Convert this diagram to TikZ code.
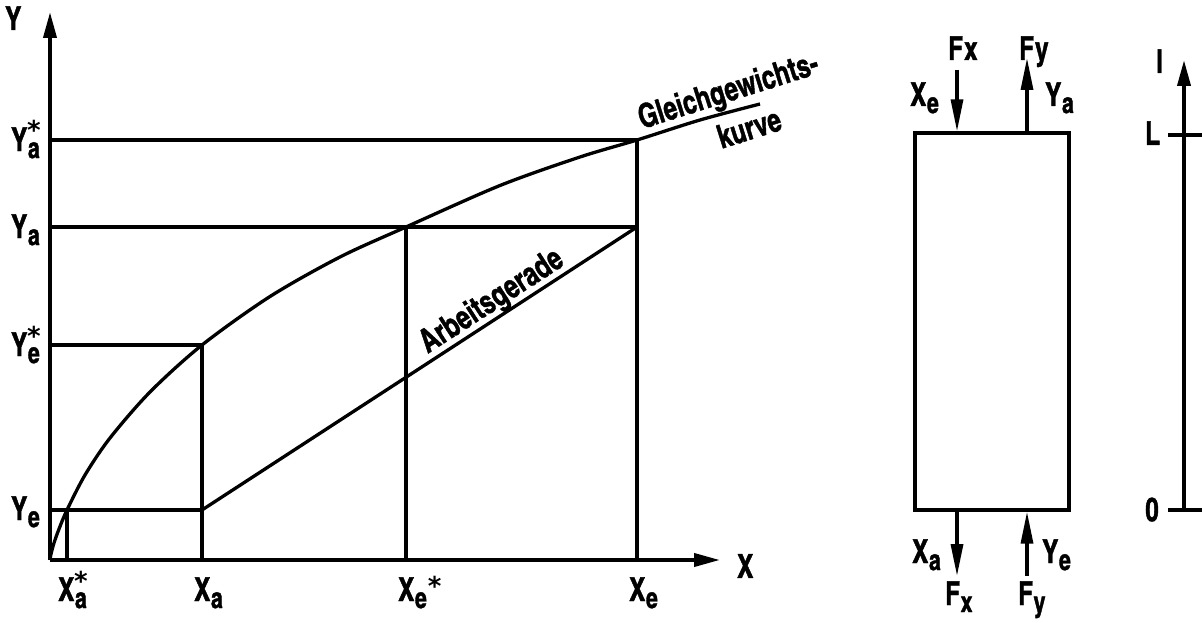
\documentclass[tikz,border=0pt]{standalone}
\usepackage{fontspec}
\newfontfamily\din[FakeStretch=0.9,FakeBold=1.2]{texgyreheroscn-bold.otf}
\newfontfamily\starfnt{DejaVu Sans}
\usetikzlibrary{arrows.meta}
\newcommand\Ssub[2]{#1\kern0.5pt\raisebox{-7pt}{\fontsize{29}{29}\selectfont #2}}
\newcommand\Sstar[2]{#1\kern0.5pt\raisebox{-7pt}{\fontsize{29}{29}\selectfont\ooalign{#2\cr\hidewidth\raisebox{18pt}{\starfnt\bfseries\fontsize{26}{26}\selectfont *}\hidewidth\cr}}}
\newcommand\Safter[2]{#1\kern0.5pt\raisebox{-7pt}{\fontsize{29}{29}\selectfont #2}\kern1pt\raisebox{6pt}{\starfnt\bfseries\fontsize{26}{26}\selectfont *}}
\begin{document}
\begin{tikzpicture}[x=1pt,y=-1pt,
  ax/.style={line width=3.8pt},
  ln/.style={line width=3.3pt},
  lab/.style={font=\din\fontsize{33}{33}\selectfont, inner sep=0pt},
  bigtip/.style={-{Triangle[length=26pt,width=13pt]}},
  ftip/.style={-{Triangle[length=32pt,width=12pt]}}]
\useasboundingbox (0,0) rectangle (1202,623);
% key points
\coordinate (O) at (50,560);
\coordinate (ytip) at (50,12);
\coordinate (xtip) at (720,560);
\coordinate (yas) at (50,140);
\coordinate (ya) at (50,227);
\coordinate (yes) at (50,345);
\coordinate (ye) at (50,510);
\coordinate (xas) at (67,560);
\coordinate (xa) at (202,560);
\coordinate (xes) at (406,560);
\coordinate (xe) at (637,560);
\coordinate (P1) at (67,510);
\coordinate (P2) at (202,345);
\coordinate (P3) at (406,227);
\coordinate (P4) at (637,140);
\coordinate (Q1) at (202,510);
\coordinate (Q2) at (637,227);
% axes
\draw[ax,bigtip] (O) -- (ytip);
\draw[ax,bigtip] (O) -- (xtip);
% horizontal lines
\draw[ln] (yas) -- (P4);
\draw[ln] (ya) -- (Q2);
\draw[ln] (yes) -- (P2);
\draw[ln] (ye) -- (Q1);
% vertical lines
\draw[ln] (xas) -- (P1);
\draw[ln] (xa) -- (P2);
\draw[ln] (xes) -- (P3);
\draw[ln] (xe) -- (P4);
% operating line
\draw[ln] (Q1) -- (Q2);
% equilibrium curve
\draw[ln,line join=round] plot[smooth,tension=0.5] coordinates {(50,560) (51,554) (54,543) (59,529) (67,510) (85,475) (110,438) (150,392) (202,345) (270,296.5) (340,257) (406,227) (500,185.5) (580,157) (637,140) (700,120) (760,104)};
% curve labels
\node[lab,anchor=base west,rotate=17.5] (gg) at (642,129) {Gleichgewichts-};
\node[lab,anchor=center,rotate=17.5] (ku) at (749,128) {kurve};
\node[lab,anchor=center,rotate=33] (ag) at (492,302) {Arbeitsgerade};
% axis labels
\node[lab,anchor=base west] (lY) at (5,30) {Y};
\node[lab,anchor=west] (lX) at (737,566) {X};
\node[lab,anchor=base east] (lyas) at (40,151) {\Sstar{Y}{a}};
\node[lab,anchor=base east] (lya) at (40,238) {\Ssub{Y}{a}};
\node[lab,anchor=base east] (lyes) at (40,356) {\Sstar{Y}{e}};
\node[lab,anchor=base east] (lye) at (40,520) {\Ssub{Y}{e}};
\node[lab,anchor=base west] (lxas) at (58,601) {\Sstar{X}{a}};
\node[lab,anchor=base west] (lxa) at (194,601) {\Ssub{X}{a}};
\node[lab,anchor=base west] (lxes) at (398,601) {\Safter{X}{e}};
\node[lab,anchor=base west] (lxe) at (629,601) {\Ssub{X}{e}};
% column box
\node[draw,ln,minimum width=154pt,minimum height=377pt,inner sep=0pt] (box) at (992,321.5) {};
\coordinate (a1) at (957,70);
\coordinate (a2) at (1027,58);
\coordinate (a3) at (957,576);
\coordinate (a4) at (1027,576);
\draw[ln,ftip] (a1) -- (a1 |- box.north);
\draw[ln,ftip] (a2 |- box.north) -- (a2);
\draw[ln,ftip] (a3 |- box.south) -- (a3);
\draw[ln,ftip] (a4) -- (a4 |- box.south);
\node[lab,anchor=base west] (fx1) at (948,60) {F\kern1pt{}x};
\node[lab,anchor=base west] (fy1) at (1019,60) {F\kern1pt{}y};
\node[lab,anchor=base west] (xe1) at (910,106) {\Ssub{X}{e}};
\node[lab,anchor=base west] (ya1) at (1045,106) {\Ssub{Y}{a}};
\node[lab,anchor=base west] (xa2) at (912,563) {\Ssub{X}{a}};
\node[lab,anchor=base west] (ye2) at (1042,563) {\Ssub{Y}{e}};
\node[lab,anchor=base west] (fx2) at (945,605) {\Ssub{F}{x}};
\node[lab,anchor=base west] (fy2) at (1018,605) {\Ssub{F}{y}};
% length scale
\coordinate (s0) at (1184,510);
\coordinate (sL) at (1184,135);
\coordinate (stip) at (1184,60);
\draw[ax,bigtip] (s0) -- (stip);
\draw[ln] ([xshift=-16pt]s0) -- ([xshift=18pt]s0);
\draw[ln] ([xshift=-16pt]sL) -- ([xshift=18pt]sL);
\node[lab,anchor=base west] (ll) at (1156,73) {l};
\node[lab,anchor=base west] (lL) at (1145,145) {L};
\node[lab,anchor=base west] (l0) at (1145,521) {0};
\end{tikzpicture}
\end{document}
